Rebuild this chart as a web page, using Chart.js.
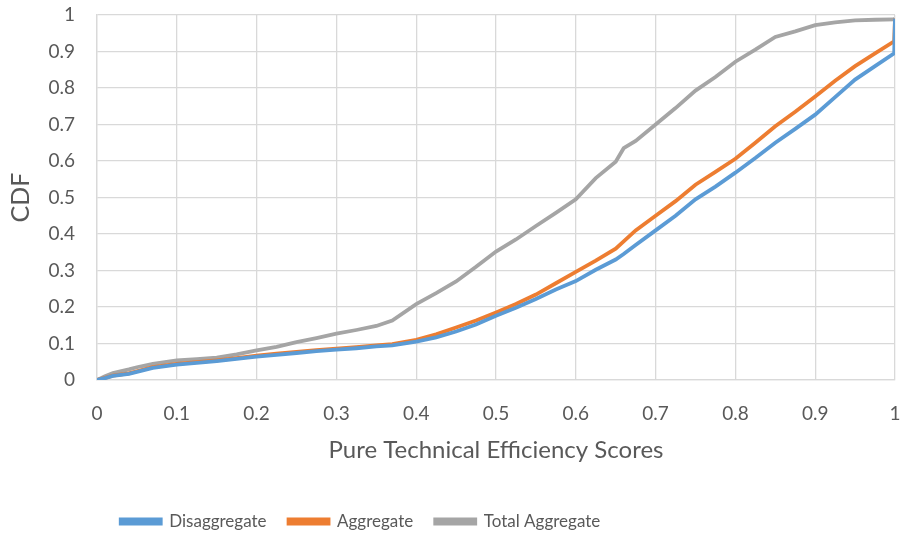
<!DOCTYPE html>
<html>
<head>
<meta charset="utf-8">
<script src="https://cdn.jsdelivr.net/npm/chart.js@4/dist/chart.umd.min.js"></script>
<style>
    html, body { margin: 0; padding: 0; background: #fff; }
    #chartContainer { width: 902px; height: 540px; }
</style>
</head>
<body>
<div id="chartContainer"><canvas id="cdfChart" width="902" height="540"></canvas></div>
<script>
// efficiency scores on the x axis
const scores = [0, 0.01, 0.02, 0.04, 0.05, 0.07, 0.1, 0.125, 0.15, 0.175, 0.2, 0.225, 0.25, 0.275, 0.3,
    0.325, 0.35, 0.37, 0.4, 0.425, 0.45, 0.475, 0.5, 0.525, 0.55, 0.575, 0.6, 0.625, 0.65, 0.66, 0.675,
    0.7, 0.725, 0.75, 0.775, 0.8, 0.825, 0.85, 0.875, 0.9, 0.925, 0.95, 0.975, 0.999, 1];

const disaggregate = [0, 0.005, 0.011, 0.017, 0.022, 0.033, 0.042, 0.047, 0.052, 0.058, 0.064, 0.069, 0.074, 0.079, 0.083,
    0.087, 0.092, 0.095, 0.105, 0.117, 0.133, 0.152, 0.176, 0.198, 0.222, 0.248, 0.271, 0.302, 0.33, 0.345, 0.37,
    0.41, 0.45, 0.495, 0.53, 0.568, 0.608, 0.65, 0.688, 0.727, 0.775, 0.823, 0.86, 0.895, 0.99];

const aggregate = [0, 0.006, 0.012, 0.018, 0.024, 0.035, 0.044, 0.049, 0.054, 0.06, 0.067, 0.072, 0.077, 0.082, 0.086,
    0.09, 0.095, 0.098, 0.11, 0.125, 0.144, 0.163, 0.185, 0.208, 0.234, 0.265, 0.296, 0.327, 0.36, 0.38, 0.41,
    0.45, 0.49, 0.535, 0.57, 0.606, 0.65, 0.695, 0.735, 0.777, 0.82, 0.86, 0.895, 0.928, 0.99];

const totalAggregate = [0, 0.01, 0.019, 0.029, 0.035, 0.044, 0.054, 0.057, 0.061, 0.07, 0.081, 0.091, 0.104, 0.115, 0.127,
    0.137, 0.148, 0.163, 0.208, 0.238, 0.27, 0.31, 0.352, 0.385, 0.422, 0.458, 0.495, 0.553, 0.598, 0.635, 0.655,
    0.7, 0.745, 0.793, 0.83, 0.872, 0.905, 0.94, 0.955, 0.972, 0.98, 0.985, 0.987, 0.988, 0.99];

const xTickLabels = ['0', '0.1', '0.2', '0.3', '0.4', '0.5', '0.6', '0.7', '0.8', '0.9', '1'];
const yTickLabels = ['0', '0.1', '0.2', '0.3', '0.4', '0.5', '0.6', '0.7', '0.8', '0.9', '1'];

const seriesNames = ['Disaggregate', 'Aggregate', 'Total Aggregate'];
const seriesColors = ['#5B9BD5', '#ED7D31', '#A5A5A5'];

const textColor = '#595959';
const gridColor = '#D9D9D9';
const fontFamily = 'Lato, "Open Sans", sans-serif';

function toPoints(values) {
    return values.map((v, i) => ({ x: scores[i], y: v }));
}

// Excel puts the legend row a bit left of centre
const legendShift = {
    id: 'legendShift',
    afterLayout(chart) {
        chart.legend.left -= 87;
        chart.legend.right -= 87;
    }
};

const datasets = [disaggregate, aggregate, totalAggregate].map((values, i) => ({
    label: seriesNames[i],
    data: toPoints(values),
    borderColor: seriesColors[i],
    backgroundColor: seriesColors[i],
    borderWidth: 3.8,
    pointRadius: 0,
    showLine: true,
    tension: 0,
    fill: false
}));

const ctx = document.getElementById('cdfChart').getContext('2d');
new Chart(ctx, {
    type: 'scatter',
    data: { datasets: datasets },
    plugins: [legendShift],
    options: {
        responsive: false,
        animation: false,
        layout: { padding: { top: 15, right: 7, bottom: 0, left: 0 } },
        scales: {
            x: {
                type: 'linear',
                min: 0,
                max: 1,
                afterFit: scale => {
                    scale.height = 111;
                    scale.paddingLeft = 0;
                    scale.paddingRight = 0;
                },
                ticks: {
                    stepSize: 0.1,
                    padding: 22,
                    color: textColor,
                    font: { family: fontFamily, size: 19 },
                    maxRotation: 0,
                    callback: (value, index) => xTickLabels[index]
                },
                grid: { color: gridColor, lineWidth: 1.3, drawTicks: false },
                border: { color: gridColor, width: 1.3 },
                title: {
                    display: true,
                    text: 'Pure Technical Efficiency Scores',
                    color: textColor,
                    font: { family: fontFamily, size: 24 },
                    padding: { top: 0, bottom: 26 }
                }
            },
            y: {
                type: 'linear',
                min: 0,
                max: 1,
                afterFit: scale => {
                    scale.width = 97;
                    scale.paddingTop = 0;
                    scale.paddingBottom = 0;
                },
                ticks: {
                    stepSize: 0.1,
                    padding: 22,
                    color: textColor,
                    font: { family: fontFamily, size: 19 },
                    callback: (value, index) => yTickLabels[index]
                },
                grid: { color: gridColor, lineWidth: 1.3, drawTicks: false },
                border: { color: gridColor, width: 1.3 },
                title: {
                    display: true,
                    text: 'CDF',
                    color: textColor,
                    font: { family: fontFamily, size: 25 },
                    padding: { top: 6, bottom: 0 }
                }
            }
        },
        plugins: {
            legend: {
                display: true,
                position: 'bottom',
                labels: {
                    boxWidth: 40,
                    boxHeight: 4,
                    padding: 22,
                    color: textColor,
                    font: { family: fontFamily, size: 17, lineHeight: 0.94 }
                }
            },
            tooltip: { enabled: false }
        }
    }
});
</script>
</body>
</html>
